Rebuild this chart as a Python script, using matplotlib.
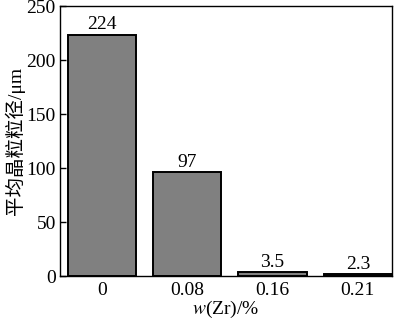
import matplotlib.pyplot as plt
import numpy as np

plt.rcParams["font.family"] = ["Liberation Serif", "Noto Sans CJK SC"]
plt.rcParams["mathtext.fontset"] = "stix"

categories = ["0", "0.08", "0.16", "0.21"]
grain_size = [224, 97, 3.5, 2.3]
bar_labels = ["224", "97", "3.5", "2.3"]

fig = plt.figure(figsize=(4.0, 3.22), dpi=100)
ax = fig.add_axes([0.15, 0.142, 0.83, 0.838])

x = np.arange(len(categories))
ax.bar(x, grain_size, width=0.8, color="#808080", edgecolor="black", linewidth=1.4)
for xi, v, lab in zip(x, grain_size, bar_labels):
    ax.text(xi, v + 1.0, lab, ha="center", va="bottom", fontsize=14)

ax.set_xlim(-0.49, 3.4)
ax.set_ylim(0, 250)
ax.set_yticks([0, 50, 100, 150, 200, 250])
ax.set_xticks(x)
ax.set_xticklabels(categories)
ax.tick_params(axis="y", direction="in", length=4, labelsize=14, width=1, pad=3)
ax.tick_params(axis="x", length=0, labelsize=14, pad=4)
for s in ax.spines.values():
    s.set_linewidth(1)

ax.set_ylabel("平均晶粒粒径/μm", fontsize=14, labelpad=1)
ax.set_xlabel("$w$(Zr)/%", fontsize=14, labelpad=0)

fig.savefig("out.png", dpi=100)
